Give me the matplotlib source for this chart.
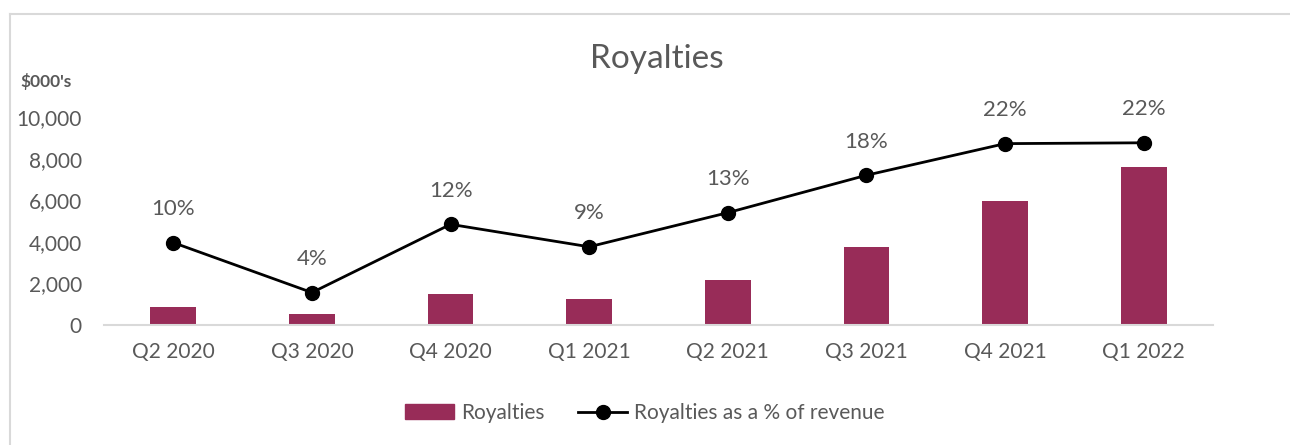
import matplotlib
matplotlib.use("Agg")
import matplotlib.pyplot as plt
from matplotlib.lines import Line2D
from matplotlib.patches import Patch
import numpy as np

plt.rcParams['font.family'] = ['Lato', 'DejaVu Sans']

categories = ["Q2 2020", "Q3 2020", "Q4 2020", "Q1 2021", "Q2 2021", "Q3 2021", "Q4 2021", "Q1 2022"]
royalties = [880, 510, 1500, 1250, 2150, 3750, 5960, 7620]
pct_revenue = [9.9, 3.9, 12.1, 9.4, 13.5, 18.0, 21.8, 21.9]
pct_labels = ["10%", "4%", "12%", "9%", "13%", "18%", "22%", "22%"]
yticks = [0, 2000, 4000, 6000, 8000, 10000]

W, H = 1290, 445
fig = plt.figure(figsize=(W / 100, H / 100), dpi=100)
TXT = "#595959"
BAR = "#982C58"

# axes in pixel coords: x 104..1213, y 325 (0) .. 117 (10000)
left, right = 104, 1213
y0, y10 = 325, 117
ymax = 10000
ax = fig.add_axes([left / W, 1 - y0 / H, (right - left) / W, (y0 - y10) / H])
x = np.arange(len(categories))
ax.bar(x, royalties, width=0.33, color=BAR, zorder=2)
ax.set_xlim(-0.5, len(categories) - 0.5)
ax.set_ylim(0, ymax)
ax.set_yticks(yticks)
ax.set_yticklabels([f"{v:,}" for v in yticks], color=TXT, fontsize=15)
ax.set_xticks(x)
ax.set_xticklabels(categories, color=TXT, fontsize=15)
ax.tick_params(axis='both', length=0)
ax.tick_params(axis='y', pad=16)
ax.tick_params(axis='x', pad=12)
for s in ['top', 'right', 'left']:
    ax.spines[s].set_visible(False)
ax.spines['bottom'].set_color("#d9d9d9")
ax.spines['bottom'].set_linewidth(1.5)

ax2 = ax.twinx()
ax2.set_ylim(0, 25)
ax2.plot(x, pct_revenue, color="black", lw=2, marker='o', markersize=10, zorder=3, clip_on=False)
for xi, v, lab in zip(x, pct_revenue, pct_labels):
    ax2.annotate(lab, (xi, v), xytext=(0, 17), textcoords='offset points',
                 ha='center', va='bottom', color=TXT, fontsize=16, annotation_clip=False)
ax2.set_yticks([])
for s in ax2.spines.values():
    s.set_visible(False)

fig.text(657 / W, 1 - 59 / H, "Royalties", ha='center', va='center', fontsize=24, color=TXT)
fig.text(20 / W, 1 - 82 / H, "$000's", ha='left', va='center', fontsize=12.5, color=TXT, fontweight='bold')

handles = [Patch(facecolor=BAR, edgecolor=BAR),
           Line2D([0], [0], color='black', lw=2, marker='o', markersize=10)]
fig.legend(handles, ["Royalties", "Royalties as a % of revenue"], loc='center',
           bbox_to_anchor=(645 / W, 1 - 413 / H), ncol=2, frameon=False, fontsize=15,
           labelcolor=TXT, handlelength=2.35, handletextpad=0.35, columnspacing=1.6)

# chart border
fig.add_artist(Line2D([10 / W, 1], [1 - 14 / H, 1 - 14 / H], color="#d9d9d9", lw=1.5, transform=fig.transFigure))
fig.add_artist(Line2D([10 / W, 10 / W], [0, 1 - 14 / H], color="#d9d9d9", lw=1.5, transform=fig.transFigure))

fig.savefig("out.png", dpi=100, facecolor='white')
